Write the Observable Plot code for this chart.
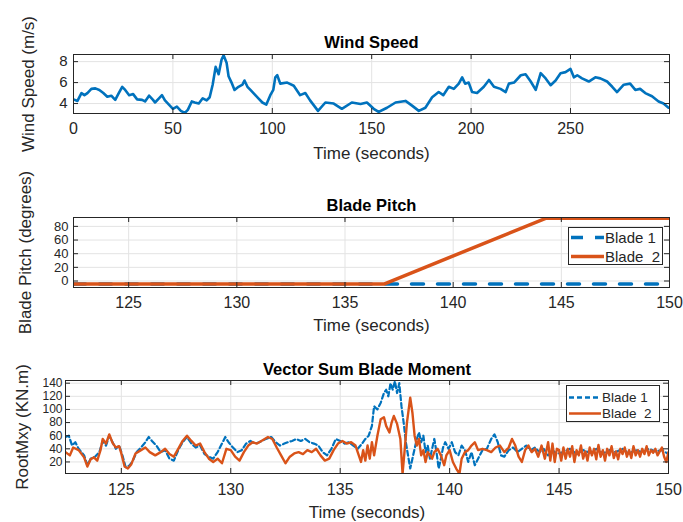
<!DOCTYPE html>
<html><head><meta charset="utf-8">
<script src="https://cdn.jsdelivr.net/npm/d3@7"></script>
<script src="https://cdn.jsdelivr.net/npm/@observablehq/plot@0.6"></script>
<style>
body{margin:0;background:#fff;}
#root{position:relative;width:683px;height:522px;overflow:hidden;font-family:"Liberation Sans",Arial,Helvetica,sans-serif;}
#root svg{position:absolute;left:0;}
</style></head><body><div id="root"></div>
<script>
// ---------- data ----------
const windTime = [0,2,4,5.5,7,9,11,13,15,17,19,21,22.5,24.5,26,28,30,32,34.5,36,38,40,41,43,44.5,46,48,50,52,54,56,57.5,59.5,61,63,65,67,68.5,70,71.5,73,74.5,75.5,77,78,79.5,81,83,85,86,87.5,89,91,93,95,97,99,100.5,101.5,102.5,104,107.5,110.8,114,116.6,119,123,126.7,130.9,135,140,144.4,147.6,151,153.5,157.7,162,167,170.3,173.7,177,180.4,183.7,186,188.8,191.3,193.8,195.5,197,198.8,200.5,203,206.4,209,211.5,214.8,217.4,219,221.6,225,227.4,230,232.5,235,237.5,240,242.5,245,247.5,250,251.7,253.4,255.8,259.2,262.5,265,268.4,271,273.4,276.8,280,282.6,285,287.6,291,294.3,296.8,299.3];
const windSpeed = [4.4,4.25,5.0,4.8,5.0,5.4,5.45,5.3,5.0,4.65,4.75,4.35,4.9,5.6,5.3,4.8,4.9,4.4,4.35,4.2,4.75,4.35,4.1,4.5,4.8,4.3,3.9,3.5,3.7,3.3,3.1,3.4,4.2,4.1,4.0,4.5,4.3,4.6,5.8,7.5,6.8,8.2,8.6,7.9,6.6,6.0,5.3,5.6,5.8,6.2,5.6,5.3,4.9,4.5,4.1,3.9,4.8,5.3,6.5,6.7,5.9,6.0,5.7,4.8,5.0,4.3,3.3,4.1,4.0,3.5,4.1,3.95,4.1,3.5,3.2,3.6,4.1,4.25,3.8,3.3,3.6,4.6,5.1,4.8,5.6,5.4,5.9,6.5,5.9,6.0,5.1,5.0,5.6,6.25,5.6,5.4,5.1,5.9,6.0,6.7,6.8,6.1,5.3,6.9,6.4,5.75,6.2,6.9,7.0,7.3,6.5,6.7,6.4,6.1,6.5,6.4,6.1,5.6,5.1,5.8,5.9,5.3,5.4,5.0,4.7,4.2,4.0,3.6];
const windXTicks = [0,50,100,150,200,250];
const windYTicks = [4,6,8];

const pitchTime1 = [122.45,150];
const pitchBlade1 = [-4.4,-4.4];
const pitchTime2 = [122.45,136.8,144.3,150];
const pitchBlade2 = [-4.4,-4.4,92,92];
const pitchYTicks = [0,20,40,60,80];

const timeTicks = [125,130,135,140,145,150];

const momentTime1 = [122.45,122.6,122.75,122.9,123.05,123.3,123.45,123.6,123.8,124.0,124.15,124.3,124.45,124.6,124.75,124.9,125.05,125.2,125.35,125.5,125.7,125.9,126.1,126.25,126.4,126.6,126.8,127.0,127.2,127.4,127.6,127.8,128.0,128.2,128.4,128.6,128.8,129.0,129.2,129.4,129.6,129.75,129.9,130.1,130.3,130.5,130.7,130.9,131.1,131.3,131.6,131.85,132.05,132.25,132.45,132.6,132.8,133.0,133.2,133.4,133.6,133.8,134.0,134.2,134.4,134.6,134.8,135.0,135.2,135.4,135.6,135.8,136.0,136.15,136.3,136.45,136.55,136.7,136.85,137.0,137.1,137.2,137.3,137.4,137.5,137.6,137.7,137.8,137.9,138.0,138.1,138.2,138.3,138.4,138.5,138.6,138.7,138.8,138.9,139.0,139.1,139.2,139.3,139.4,139.5,139.6,139.7,139.8,139.95,140.1,140.25,140.4,140.55,140.7,140.85,141.0,141.15,141.3,141.5,141.7,141.9,142.05,142.2,142.35,142.5,142.7,142.9,143.1,143.3,143.5,143.7,143.9,144.1,144.3,144.5,144.7,144.9,145.2,145.5,145.8,146.1,146.4,146.7,147.0,147.3,147.6,147.9,148.2,148.5,148.8,149.1,149.4,149.7,150];
const momentBlade1 = [58,60,45,50,40,30,15,25,28,35,52,45,60,50,40,45,30,12,14,20,35,42,50,58,52,45,35,38,25,22,38,50,58,48,42,45,32,28,25,35,48,58,50,42,35,38,48,52,48,50,55,58,50,45,48,50,52,55,52,55,50,48,45,35,30,40,55,52,48,50,45,40,48,55,60,75,105,100,110,125,130,120,140,130,143,125,140,105,80,50,30,10,25,40,55,65,50,60,35,45,25,40,55,35,10,25,42,50,40,50,35,30,45,38,20,35,15,25,38,40,55,62,50,30,28,38,42,35,40,45,38,42,35,40,30,38,32,35,40,32,38,34,40,33,38,35,40,33,38,35,40,36,38,32];
const momentTime2 = [122.45,122.65,122.8,123.05,123.3,123.45,123.6,123.75,123.9,124.05,124.15,124.3,124.45,124.6,124.75,124.9,125.0,125.15,125.3,125.45,125.65,125.9,126.1,126.3,126.55,126.8,127.0,127.2,127.4,127.6,127.8,128.0,128.2,128.4,128.6,128.8,129.0,129.2,129.4,129.6,129.8,130.0,130.2,130.4,130.6,130.8,131.0,131.2,131.4,131.7,131.9,132.1,132.3,132.5,132.7,132.9,133.1,133.3,133.5,133.7,133.9,134.1,134.3,134.5,134.7,134.9,135.1,135.3,135.5,135.7,135.85,135.95,136.05,136.15,136.25,136.35,136.45,136.55,136.7,136.85,137.0,137.1,137.25,137.35,137.45,137.6,137.75,137.85,137.95,138.05,138.2,138.3,138.4,138.5,138.6,138.7,138.8,138.9,139.0,139.1,139.2,139.3,139.45,139.6,139.75,139.85,140.0,140.15,140.3,140.45,140.55,140.7,140.85,141.0,141.15,141.3,141.5,141.7,141.9,142.1,142.3,142.5,142.7,142.85,143.0,143.15,143.3,143.45,143.6,143.75,143.9,144.05,144.2,144.35,144.5,144.6,144.7,144.8,144.9,145.0,145.1,145.2,145.3,145.4,145.5,145.6,145.7,145.8,145.9,146.0,146.1,146.2,146.3,146.4,146.5,146.6,146.7,146.8,146.9,147.0,147.1,147.2,147.3,147.4,147.5,147.6,147.7,147.8,147.9,148.0,148.1,148.2,148.3,148.4,148.5,148.6,148.7,148.8,148.9,149.0,149.1,149.2,149.3,149.4,149.5,149.6,149.7,149.8,149.9,150.0];
const momentBlade2 = [35,30,42,38,27,13,24,27,22,38,55,48,62,49,42,44,33,13,10,16,33,38,42,35,30,35,40,32,28,40,52,60,52,45,48,35,25,20,25,18,40,38,28,22,35,45,50,48,52,58,55,42,30,18,28,33,35,32,38,35,40,30,22,25,38,48,52,48,50,45,30,20,38,22,45,25,50,30,60,85,88,75,65,80,90,78,55,2,40,80,118,95,60,45,55,30,38,20,35,30,25,35,40,30,15,30,38,20,10,2,25,35,38,45,50,38,40,38,35,42,45,35,42,55,45,28,20,38,45,35,40,28,45,25,50,22,48,20,40,38,22,42,25,40,28,44,20,38,30,45,25,36,22,42,30,40,24,46,28,38,22,40,30,44,26,36,24,40,32,42,28,38,26,44,30,38,28,40,32,44,30,38,34,40,30,36,42,28,20,35];
const momentYTicks = [20,40,60,80,100,120,140];

const seriesNames = ["Blade 1", "Blade  2"];
const blue = "#0072BD", orange = "#D95319";
const ink = "#262626";

// ---------- helpers ----------
const root = document.getElementById("root");
const W = 683;

function panel(o) {
  const frameW = W - o.mL - o.mR, frameH = o.h - o.mT - o.mB;
  const chart = Plot.plot({
    width: W, height: o.h,
    marginLeft: o.mL, marginRight: o.mR, marginTop: o.mT, marginBottom: o.mB,
    style: {fontFamily: '"Liberation Sans", Arial, Helvetica, sans-serif', color: ink, background: "transparent"},
    x: {domain: o.xDomain, label: null},
    y: {domain: o.yDomain, label: null},
    marks: [
      Plot.ruleX(o.xTicks, {x: d => d, stroke: "#e3e3e3", strokeWidth: 1}),
      Plot.ruleY(o.yTicks, {y: d => d, stroke: "#e3e3e3", strokeWidth: 1}),
      ...o.marks,
      Plot.tickX(o.xTicks, {x: d => d, stroke: ink, insetTop: frameH - 5}),
      Plot.tickX(o.xTicks, {x: d => d, stroke: ink, insetBottom: frameH - 5}),
      Plot.tickY(o.yTicks, {y: d => d, stroke: ink, insetRight: frameW - 5}),
      Plot.tickY(o.yTicks, {y: d => d, stroke: ink, insetLeft: frameW - 5}),
      Plot.frame({stroke: ink, strokeWidth: 1}),
      Plot.axisX(o.xTicks, {tickSize: 0, tickPadding: o.xPad, fontSize: 16, fill: ink, label: null}),
      Plot.axisY(o.yTicks, {tickSize: 0, tickPadding: o.yPad, fontSize: o.yFont, fill: ink, label: null}),
      Plot.text([o.title], {frameAnchor: "top", dy: o.titleDy, fontWeight: "bold", fontSize: 16.5, fill: "#000", lineAnchor: "middle"}),
      Plot.text(["Time (seconds)"], {frameAnchor: "bottom", dy: o.xLabDy, fontSize: 17, fill: ink, lineAnchor: "middle"}),
      Plot.text([o.ylabel], {frameAnchor: "left", dx: o.yLabDx, rotate: -90, fontSize: 17, fill: ink, textAnchor: "middle", lineAnchor: "middle"})
    ]
  });
  chart.style.top = o.top + "px";
  root.appendChild(chart);
}

function legend(o) {
  const ns = "http://www.w3.org/2000/svg";
  const svg = document.createElementNS(ns, "svg");
  svg.setAttribute("width", o.w + 2); svg.setAttribute("height", o.h + 2);
  svg.style.left = (o.x - 1) + "px"; svg.style.top = (o.y - 1) + "px";
  const rect = document.createElementNS(ns, "rect");
  rect.setAttribute("x", 1.5); rect.setAttribute("y", 1.5);
  rect.setAttribute("width", o.w - 1); rect.setAttribute("height", o.h - 1);
  rect.setAttribute("fill", "#fff"); rect.setAttribute("stroke", ink);
  svg.appendChild(rect);
  o.items.forEach((it, i) => {
    const cy = o.rows[i] - o.y + 1;
    const ln = document.createElementNS(ns, "line");
    ln.setAttribute("x1", o.s0); ln.setAttribute("x2", o.s1);
    ln.setAttribute("y1", cy); ln.setAttribute("y2", cy);
    ln.setAttribute("stroke", it.color); ln.setAttribute("stroke-width", it.width);
    if (it.dash) ln.setAttribute("stroke-dasharray", it.dash);
    svg.appendChild(ln);
    const tx = document.createElementNS(ns, "text");
    tx.setAttribute("x", o.tx); tx.setAttribute("y", cy);
    tx.setAttribute("dominant-baseline", "central");
    tx.setAttribute("font-size", o.font);
    tx.setAttribute("fill", ink);
    tx.setAttribute("xml:space", "preserve");
    tx.style.whiteSpace = "pre";
    tx.textContent = it.name;
    svg.appendChild(tx);
  });
  root.appendChild(svg);
}

// ---------- panel 1 ----------
panel({
  top: 0, h: 170, mL: 73, mR: 14, mT: 54, mB: 57,
  xDomain: [0, 299.8], yDomain: [3.05, 8.68],
  xTicks: windXTicks, yTicks: windYTicks, xPad: 9, yPad: 6, yFont: 15,
  title: "Wind Speed", titleDy: -12, xLabDy: 40,
  ylabel: "Wind Speed (m/s)", yLabDx: -45,
  marks: [Plot.line(windSpeed, {x: windTime, y: windSpeed, stroke: blue, strokeWidth: 2.6, clip: true})]
});

// ---------- panel 2 ----------
panel({
  top: 170, h: 170, mL: 73, mR: 14, mT: 47, mB: 53,
  xDomain: [122.45, 150], yDomain: [-9.5, 93],
  xTicks: timeTicks, yTicks: pitchYTicks, xPad: 9, yPad: 5, yFont: 13,
  title: "Blade Pitch", titleDy: -12, xLabDy: 38,
  ylabel: "Blade Pitch (degrees)", yLabDx: -48,
  marks: [
    Plot.line(pitchBlade1, {x: pitchTime1, y: pitchBlade1, stroke: blue, strokeWidth: 3.5, strokeDasharray: "12,14", clip: true}),
    Plot.line(pitchBlade2, {x: pitchTime2, y: pitchBlade2, stroke: orange, strokeWidth: 3.5, clip: true})
  ]
});
legend({x: 568, y: 227, w: 95, h: 38, rows: [237.5, 256.5], s0: 4, s1: 37, tx: 38, font: 15,
  items: [{name: seriesNames[0], color: blue, width: 3.5, dash: "12,12"}, {name: seriesNames[1], color: orange, width: 3.5}]});

// ---------- panel 3 ----------
panel({
  top: 340, h: 182, mL: 65, mR: 15, mT: 40, mB: 49,
  xDomain: [122.45, 150], yDomain: [2.4, 144.1],
  xTicks: timeTicks, yTicks: momentYTicks, xPad: 10, yPad: 3, yFont: 12,
  title: "Vector Sum Blade Moment", titleDy: -11, xLabDy: 39,
  ylabel: "RootMxy (KN.m)", yLabDx: -43,
  marks: [
    Plot.line(momentBlade1, {x: momentTime1, y: momentBlade1, stroke: blue, strokeWidth: 2.2, strokeDasharray: "5,3", clip: true}),
    Plot.line(momentBlade2, {x: momentTime2, y: momentBlade2, stroke: orange, strokeWidth: 2.4, clip: true})
  ]
});
legend({x: 566, y: 385, w: 94, h: 37, rows: [397.5, 413.5], s0: 4, s1: 36, tx: 37, font: 13.5,
  items: [{name: seriesNames[0], color: blue, width: 2.5, dash: "5,3"}, {name: seriesNames[1], color: orange, width: 2.5}]});
</script></body></html>
